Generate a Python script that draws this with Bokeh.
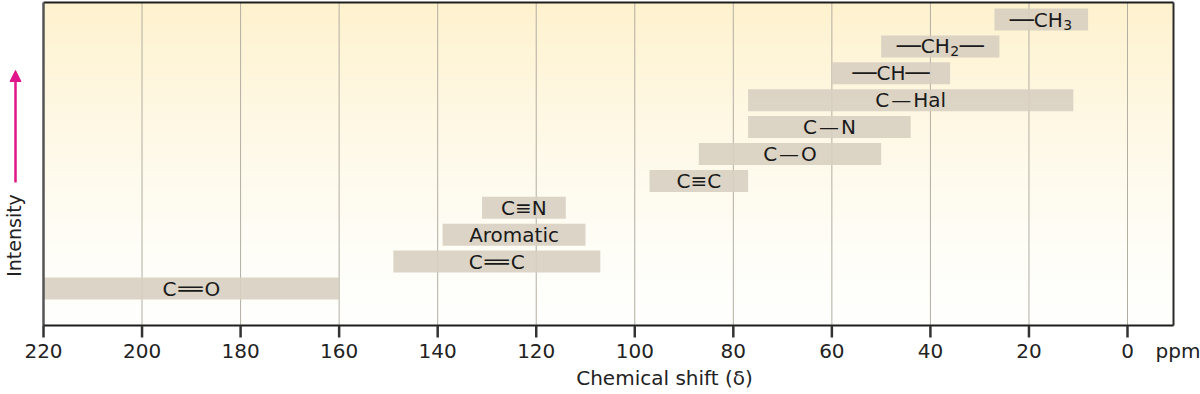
import numpy as np
from bokeh.plotting import figure
from bokeh.models import Range1d, Arrow, NormalHead
from bokeh.core.properties import value
from bokeh.embed import file_html
from bokeh.resources import INLINE

# ---- data (13C chemical shift ranges, ppm) ----
EN = "\u2002"   # slot for subscript digit
groups = ["C\u200a══\u200aO", "C\u200a══\u200aC", "Aromatic", "C≡N", "C≡C",
          "C\u200a—\u200aO", "C\u200a—\u200aN", "C\u200a—\u200aHal",
          "──CH──", "──CH" + EN + "──", "──CH" + EN]
shift_high = [220, 149, 139, 131, 97, 87, 77, 77, 60, 50, 27]
shift_low = [160, 107, 110, 114, 77, 50, 44, 11, 36, 26, 8]
rows = list(range(len(groups)))
sub_rows = [9, 10]          # CH2, CH3 subscripts
sub_text = ["2", "3"]
tick_values = [220, 200, 180, 160, 140, 120, 100, 80, 60, 40, 20, 0]
grid_values = [200, 180, 160, 140, 120, 100, 80, 60, 40, 20, 0]
tick_labels = [str(v) for v in tick_values]

# ---- geometry: pixel -> data helpers (frame covers whole canvas) ----
W, H = 1200, 394
SX = (1127 - 43) / 220.0      # px per ppm
SY = (288 - 19) / 10.0        # px per row


def xd(px):
    return 220 - (px - 43) / SX


def yd(py):
    return (288 - py) / SY


PLOT_L, PLOT_R = 220, xd(1173)
PLOT_B, PLOT_T = yd(325), yd(2)

FONT = "DejaVu Sans"
INK = "#222222"
LABEL_PX = 20

p = figure(width=W, height=H,
           x_range=Range1d(xd(0), xd(W)), y_range=Range1d(yd(H), yd(0)),
           output_backend="svg", toolbar_location=None,
           min_border=0)
p.axis.visible = False
p.grid.visible = False
p.outline_line_color = None
p.background_fill_color = "white"
p.border_fill_color = "white"

# background gradient (yellowish top fading to white)
n = 256
t = np.linspace(0, 1, n) ** 1.4  # 0 bottom, 1 top
top = np.array([254, 242, 206])
bot = np.array([255, 255, 253])
cols = (bot[None, :] * (1 - t[:, None]) + top[None, :] * t[:, None]).astype(np.uint8)
img = np.empty((n, 1), dtype=np.uint32)
view = img.view(dtype=np.uint8).reshape((n, 1, 4))
view[:, 0, 0] = cols[:, 0]
view[:, 0, 1] = cols[:, 1]
view[:, 0, 2] = cols[:, 2]
view[:, 0, 3] = 255
p.image_rgba(image=[img], x=PLOT_R, y=PLOT_B, dw=PLOT_L - PLOT_R, dh=PLOT_T - PLOT_B)

# vertical grid lines
p.segment(x0=grid_values, y0=[PLOT_B] * len(grid_values),
          x1=grid_values, y1=[PLOT_T] * len(grid_values),
          line_color="#b3aea2", line_width=1)

# bars + labels
mid = [(a + b) / 2 for a, b in zip(shift_high, shift_low)]
p.hbar(y=rows, left=shift_low, right=shift_high, height=22 / SY,
       fill_color="#d8cfc1", fill_alpha=0.9, line_color=None)
p.text(x=mid, y=rows, text=groups, text_align="center", text_baseline="middle",
       text_font=value(FONT), text_font_size=f"{LABEL_PX}px", text_color="#1a1a1a")

# subscripts placed in the en-space slot (DejaVu Sans advance widths, em)
ADV = {"─": 0.602, "C": 0.698, "H": 0.752, EN: 0.5}


def slot_offset(label):
    total = sum(ADV[ch] for ch in label) * LABEL_PX
    before = sum(ADV[ch] for ch in label[:label.index(EN)]) * LABEL_PX
    return -total / 2 + before + 0.25 * LABEL_PX


sub_x = [mid[r] for r in sub_rows]
sub_off = [slot_offset(groups[r]) for r in sub_rows]
p.text(x=sub_x, y=sub_rows, text=sub_text, x_offset=sub_off, y_offset=5,
       text_align="center", text_baseline="middle",
       text_font=value(FONT), text_font_size="14px", text_color="#1a1a1a")

# frame borders
p.segment(x0=[PLOT_L, PLOT_R, PLOT_L], y0=[PLOT_T, PLOT_T, PLOT_T],
          x1=[PLOT_R, PLOT_R, PLOT_L], y1=[PLOT_T, PLOT_B, PLOT_B],
          line_color=["#1e1e1e", "#2a2a2a", "#555555"], line_width=[2, 2, 2.5])
p.segment(x0=[PLOT_L], y0=[PLOT_B], x1=[PLOT_R], y1=[PLOT_B],
          line_color="#1e1e1e", line_width=2)

# x-axis ticks and labels
p.segment(x0=tick_values, y0=[PLOT_B] * len(tick_values),
          x1=tick_values, y1=[yd(337)] * len(tick_values),
          line_color="#333333", line_width=2.5)
p.text(x=tick_values, y=[yd(350)] * len(tick_values), text=tick_labels,
       text_align="center", text_baseline="middle",
       text_font=value(FONT), text_font_size="20px", text_color=INK)
p.text(x=[xd(1155)], y=[yd(350)], text=["ppm"], text_align="left",
       text_baseline="middle", text_font=value(FONT), text_font_size="20px",
       text_color=INK)
p.text(x=[xd(664)], y=[yd(377)], text=["Chemical shift (δ)"], text_align="center",
       text_baseline="middle", text_font=value(FONT), text_font_size="20px",
       text_color=INK)

# y-axis "Intensity" with arrow
p.text(x=[xd(13)], y=[yd(235)], text=["Intensity"], angle=np.pi / 2,
       text_align="center", text_baseline="middle", text_font=value(FONT),
       text_font_size="19px", text_color=INK)
pink = "#e0168a"
p.add_layout(Arrow(end=NormalHead(size=11, fill_color=pink, line_color=pink),
                   x_start=xd(15), y_start=yd(182), x_end=xd(15), y_end=yd(70),
                   line_color=pink, line_width=2.5))

open("out.html", "w").write(file_html(p, INLINE))
